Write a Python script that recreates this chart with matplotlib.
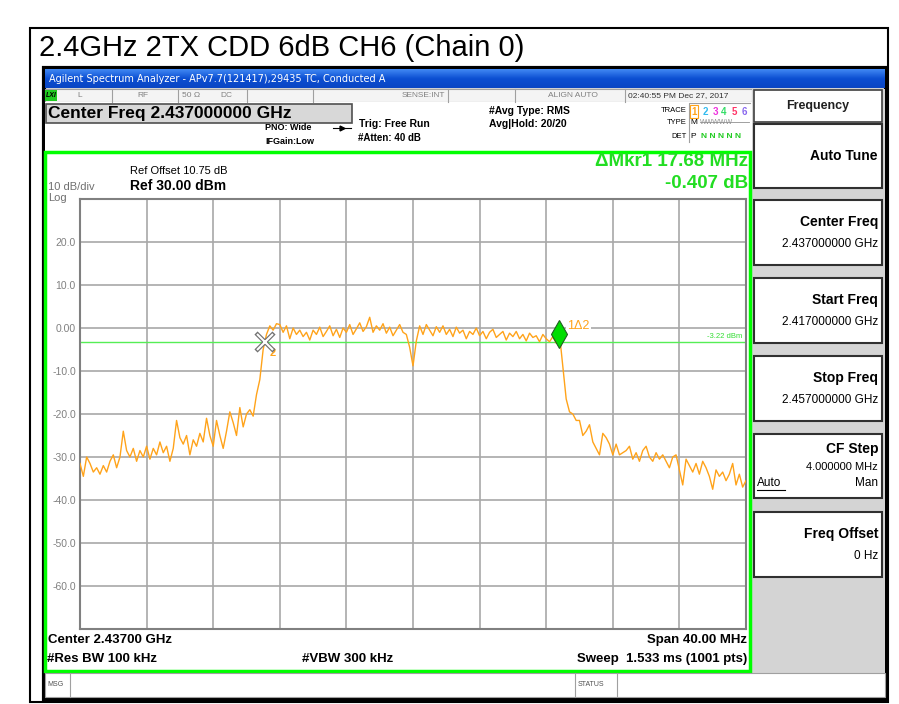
import numpy as np
import matplotlib
matplotlib.use("Agg")
from matplotlib import pyplot as plt
from matplotlib.patches import Rectangle

plt.rcParams['font.family'] = ['Liberation Sans', 'DejaVu Sans']

# sweep settings (GHz) and trace readings (dBm), one value every 0.2 MHz
start_ghz = 2.417
stop_ghz = 2.457
trace_dbm = [
    -31.5, -34.5, -30.0, -31.5, -33.5, -32.5, -34.0, -32.0, -33.5, -31.0,
    -29.5, -32.5, -30.0, -24.0, -28.5, -30.0, -28.0, -31.0, -28.5, -30.0,
    -27.5, -30.5, -28.0, -29.5, -26.5, -29.0, -27.5, -31.0, -28.0, -21.5,
    -25.5, -27.0, -25.0, -29.5, -26.0, -27.5, -24.5, -26.5, -21.0, -25.0,
    -27.5, -21.5, -25.0, -28.0, -24.0, -19.5, -22.0, -25.0, -18.5, -23.0,
    -20.0, -19.0, -20.5, -15.5, -12.0, -5.0, -1.5, 0.5, -0.5, 1.0,
    0.8, -1.0, 0.5, -2.5, 0.0, -1.5, -0.5, -2.0, -1.0, -2.8,
    -0.5, -1.5, 0.2, -2.0, -0.8, 0.5, -1.8, -0.3, -2.2, 0.0,
    -1.0, 0.8, -1.5, -0.2, 1.2, -0.8, 0.3, 2.5, -1.0, 0.5,
    -0.5, 1.0, -1.2, 0.2, -1.8, -0.5, 0.8, -1.0, -1.5, -4.5,
    -8.8, -3.0, 0.5, -1.5, 0.8, -0.5, -1.8, 0.3, -1.0, 0.5,
    -1.5, -0.3, -2.0, 0.2, -1.2, -0.5, -2.5, -0.8, -1.5, 0.0,
    -1.8, -0.8, -2.5, -1.0, -0.3, -2.2, -1.5, -0.8, -2.8, -1.2,
    -2.0, -0.8, -2.5, -1.5, -3.0, -1.2, -2.2, -1.8, -3.2, -1.5,
    -2.5, -3.2, -2.0, -3.5, -1.5, -9.0, -16.5, -19.5, -20.0, -21.5,
    -21.5, -25.0, -24.0, -22.5, -26.5, -28.0, -29.5, -24.5, -25.5, -27.0,
    -29.5, -27.0, -29.5, -29.0, -28.5, -27.5, -30.5, -29.0, -31.0, -28.5,
    -27.5, -30.0, -31.0, -29.0, -30.5, -29.5, -31.0, -32.5, -30.0, -29.5,
    -33.0, -36.5, -30.5, -32.0, -33.5, -31.5, -34.0, -31.0, -32.5, -34.5,
    -37.5, -33.0, -34.5, -33.5, -35.5, -34.0, -31.5, -36.5, -34.0, -37.0,
    -35.5,
]
ytick_vals = [30, 20, 10, 0, -10, -20, -30, -40, -50, -60, -70]
ytick_text = ["", "20.0", "10.0", "0.00", "-10.0", "-20.0", "-30.0", "-40.0", "-50.0", "-60.0", ""]
display_line = -3.22
mkr2 = (2.4281, -3.2)
mkr1 = (2.44578, -1.4)

softkeys = [
    ("Auto Tune", "", 124, 188),
    ("Center Freq", "2.437000000 GHz", 200, 265),
    ("Start Freq", "2.417000000 GHz", 278, 343),
    ("Stop Freq", "2.457000000 GHz", 356, 421),
    ("Freq Offset", "0 Hz", 512, 577),
]

W, H = 899, 704
fig = plt.figure(figsize=(W / 100, H / 100), dpi=100)
fig.patch.set_facecolor("white")

# overlay in pixel coordinates for the analyzer chrome
ov = fig.add_axes([0, 0, 1, 1])
ov.set_xlim(0, W)
ov.set_ylim(H, 0)
ov.axis("off")


def box(x0, y0, x1, y1, fc="none", ec="black", lw=1.0, z=1):
    ov.add_patch(Rectangle((x0, y0), x1 - x0, y1 - y0, facecolor=fc, edgecolor=ec, lw=lw, zorder=z))


def txt(x, y, s, size=8, ha="left", color="black", weight="normal", **kw):
    ov.text(x, y, s, fontsize=size, ha=ha, va="center", color=color, fontweight=weight, **kw)


box(30, 28, 888, 702, ec="black", lw=1.5)
txt(39, 48, "2.4GHz 2TX CDD 6dB CH6 (Chain 0)", size=21)

# screen
box(44, 68, 886, 699, fc="#d4d4d4", ec="black", lw=3, z=1)
grad = np.linspace(0, 1, 20).reshape(-1, 1)
ov.imshow(grad, extent=(45, 885, 88, 69), cmap=matplotlib.colors.LinearSegmentedColormap.from_list(
    "bar", ["#3f86f2", "#0c4fd2", "#0a46c4"]), aspect="auto", zorder=2)
txt(49, 79, "Agilent Spectrum Analyzer - APv7.7(121417),29435 TC, Conducted A", size=7,
    color="white", family="DejaVu Sans", zorder=3)

# status row
box(45, 89, 752, 102, fc="#f4f4f4", ec="#a0a0a0", lw=0.8, z=2)
for sx in [112, 178, 247, 313, 448, 515, 625]:
    ov.plot([sx, sx], [89, 102], color="#a0a0a0", lw=0.8, zorder=3)
box(45, 90, 57, 101, fc="#22cc22", ec="none", z=3)
txt(46, 95.5, "LXI", size=5, weight="bold", style="italic", zorder=4)
for sx, s in [(77, "L"), (137, "RF"), (182, "50 Ω"), (220, "DC")]:
    txt(sx, 95.5, s, size=6, color="#808080", zorder=4)
txt(445, 95.5, "SENSE:INT", size=6, ha="right", color="#808080", zorder=4)
txt(573, 95.5, "ALIGN AUTO", size=6, ha="center", color="#808080", zorder=4)
txt(628, 95.5, "02:40:55 PM Dec 27, 2017", size=6, color="#303030", zorder=4)

# info area
box(45, 102, 752, 151, fc="white", ec="none", z=2)
box(46, 104, 352, 123, fc="#d8d8d8", ec="#505050", lw=1.2, z=3)
txt(48, 113.5, "Center Freq 2.437000000 GHz", size=12.5, weight="bold", zorder=4)
txt(265, 128, "PNO: Wide", size=6.5, weight="bold", zorder=4)
ov.plot([333, 351], [128, 128], color="black", lw=0.8, zorder=4)
ov.plot([342], [128], marker=">", ms=3.5, color="black", zorder=4)
txt(265, 141, "IFGain:Low", size=6.5, weight="bold", zorder=4)
txt(359, 124, "Trig: Free Run", size=7.5, weight="bold", zorder=4)
txt(358, 138, "#Atten: 40 dB", size=7, weight="bold", zorder=4)
txt(489, 111, "#Avg Type: RMS", size=7.5, weight="bold", zorder=4)
txt(489, 124, "Avg|Hold: 20/20", size=7.5, weight="bold", zorder=4)
txt(687, 110, "TRACE", size=5.5, ha="right", zorder=4)
txt(687, 123, "TYPE", size=5.5, ha="right", zorder=4)
txt(687, 136, "DET", size=5.5, ha="right", zorder=4)
ov.plot([689, 689, 750], [142, 103, 103], color="#a0a0a0", lw=0.8, zorder=4)
box(690, 105, 698, 118, ec="#ffa31a", lw=0.8, z=4)
for (tx, s, c) in [(694, "1", "#ffa31a"), (705, "2", "#33bbee"), (715, "3", "#ee33dd"),
                   (724, "4", "#33dd66"), (734, "5", "#ff3366"), (744, "6", "#8866ee")]:
    txt(tx, 112, s, size=7, ha="center", color=c, weight="bold", zorder=5)
txt(690, 123, "M", size=6, zorder=4)
txt(700, 123, "WWWWW", size=5, color="#909090", zorder=4)
ov.plot([700, 749], [122, 122], color="#909090", lw=0.6, zorder=5)
txt(690, 136, "P", size=6, zorder=4)
txt(701, 136, "N N N N N", size=6, color="#22cc22", weight="bold", zorder=4)

# soft keys
box(752, 89, 885, 698, fc="#d4d4d4", ec="none", z=2)
box(754, 90, 882, 122, fc="white", ec="#404040", lw=1.2, z=3)
txt(818, 106, "Frequency", size=9, ha="center", weight="bold", color="#202020", zorder=4)
for title, value, y0, y1 in softkeys:
    box(754, y0, 882, y1, fc="white", ec="#303030", lw=1.5, z=3)
    if value:
        txt(878, y0 + 22, title, size=10, ha="right", weight="bold", zorder=4)
        txt(878, y0 + 44, value, size=8.5, ha="right", zorder=4)
    else:
        txt(878, (y0 + y1) / 2, title, size=10, ha="right", weight="bold", zorder=4)
# CF Step has three lines
box(754, 434, 882, 498, fc="white", ec="#303030", lw=1.5, z=3)
txt(878, 449, "CF Step", size=10, ha="right", weight="bold", zorder=5)
txt(878, 467, "4.000000 MHz", size=8, ha="right", zorder=5)
txt(757, 483, "Auto", size=8.5, zorder=5)
ov.plot([757, 785], [490, 490], color="black", lw=0.8, zorder=5)
txt(878, 483, "Man", size=8.5, ha="right", zorder=5)

# main display
box(45, 152, 750, 671, fc="white", ec="#00ff00", lw=2.5, z=3)
txt(130, 171, "Ref Offset 10.75 dB", size=8, zorder=4)
txt(130, 186, "Ref 30.00 dBm", size=10, weight="bold", zorder=4)
txt(48, 187, "10 dB/div", size=8, color="#707070", zorder=4)
txt(48, 198, "Log", size=8, color="#707070", zorder=4)
txt(748, 162, "ΔMkr1 17.68 MHz", size=13.5, ha="right", weight="bold", color="#22dd22", zorder=4)
txt(748, 183, "-0.407 dB", size=13.5, ha="right", weight="bold", color="#22dd22", zorder=4)
txt(48, 640, "Center 2.43700 GHz", size=9.5, weight="bold", zorder=4)
txt(747, 640, "Span 40.00 MHz", size=9.5, ha="right", weight="bold", zorder=4)
txt(47, 659, "#Res BW 100 kHz", size=9.5, weight="bold", zorder=4)
txt(302, 659, "#VBW 300 kHz", size=9.5, weight="bold", zorder=4)
txt(747, 659, "Sweep  1.533 ms (1001 pts)", size=9.5, ha="right", weight="bold", zorder=4)

# message bar
box(45, 673, 885, 697, fc="white", ec="#a0a0a0", lw=0.8, z=3)
for sx in [70, 575, 617]:
    ov.plot([sx, sx], [673, 697], color="#a0a0a0", lw=0.8, zorder=4)
txt(47, 685, "MSG", size=5, color="#505050", zorder=4)
txt(578, 685, "STATUS", size=5, color="#505050", zorder=4)

# trace axes
ax = fig.add_axes([80 / W, 1 - 629 / H, 666 / W, 430 / H])
freqs = np.linspace(start_ghz, stop_ghz, len(trace_dbm))
ax.plot(freqs, trace_dbm, color="#ffa31a", lw=1.0, zorder=3)
ax.axhline(display_line, color="#55ee55", lw=1.0, zorder=2)
ax.text(stop_ghz - 0.0002, display_line + 0.4, "-3.22 dBm", fontsize=5.5, color="#33dd33",
        ha="right", va="bottom")
ax.plot(*mkr2, marker="x", ms=13, mew=3.2, color="#707070", zorder=4)
ax.plot(*mkr2, marker="x", ms=12, mew=1.5, color="white", zorder=5)
ax.text(mkr2[0] + 0.0003, mkr2[1] - 1.5, "2", fontsize=8, color="#ffa31a", fontweight="bold",
        va="top")
ax.plot(*mkr1, marker="d", ms=14, color="#00dd00", mec="#206020", mew=0.8, zorder=5)
ax.text(mkr1[0] + 0.0005, 0.5, "1Δ2", fontsize=9, color="#ffa31a", va="center",
        bbox=dict(fc="white", ec="none", pad=1))
ax.set_xlim(start_ghz, stop_ghz)
ax.set_ylim(-70, 30)
ax.set_xticks(np.linspace(start_ghz, stop_ghz, 11))
ax.set_yticks(ytick_vals)
ax.set_yticklabels(ytick_text)
ax.set_xticklabels([])
ax.tick_params(length=0, labelsize=7.5, labelcolor="#808080", pad=3)
ax.grid(True, color="#a8a8a8", lw=1.2)
ax.set_axisbelow(True)
for sp in ax.spines.values():
    sp.set_color("#808080")
    sp.set_linewidth(1.5)

fig.savefig("out.png", dpi=100)
